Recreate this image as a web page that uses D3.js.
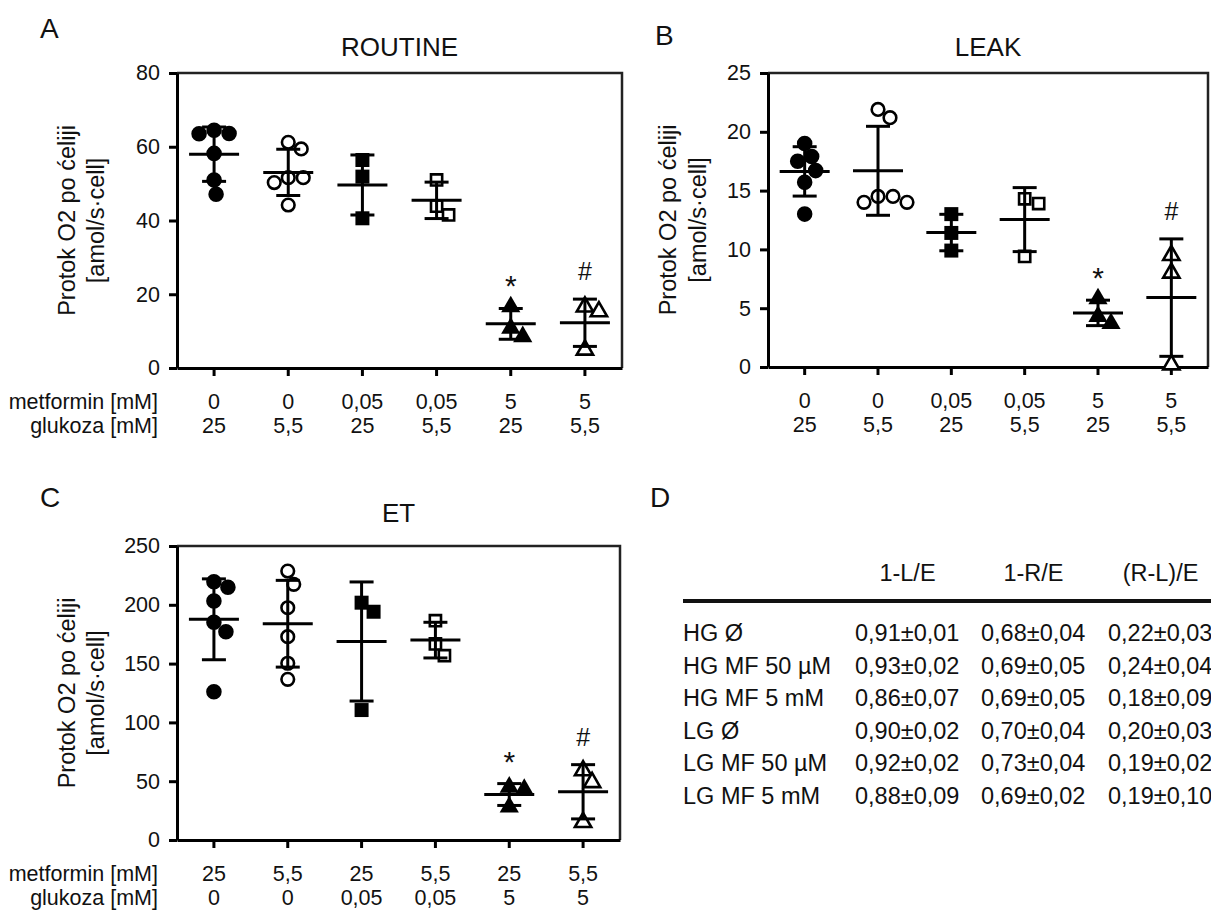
<!DOCTYPE html>
<html>
<head>
<meta charset="utf-8">
<script src="https://cdn.jsdelivr.net/npm/d3@7"></script>
<style>
  html, body { margin: 0; padding: 0; background: #fff; }
  svg { display: block; font-family: "Liberation Sans", Arial, sans-serif; }
  text { fill: #111; }
</style>
</head>
<body>
<svg id="fig" width="1211" height="916"></svg>
<script>
// ---- data -------------------------------------------------------------
// O2 flux per cell [amol/s·cell], one array per group (individual experiments)
const routine = [
  [64.5, 63.6, 63.5, 58.2, 51.0, 47.1],
  [61.2, 59.4, 51.6, 50.3, 51.6, 44.2],
  [56.4, 51.9, 40.6],
  [51.0, 43.9, 41.5],
  [16.6, 10.8, 8.5],
  [16.6, 15.3, 4.9]
];
const leak = [
  [19.0, 17.9, 17.5, 16.7, 15.7, 13.0],
  [21.9, 21.2, 14.5, 14.0, 14.0, 14.5],
  [13.0, 11.4, 9.9],
  [14.3, 13.9, 9.4],
  [5.8, 4.3, 3.7],
  [9.5, 8.0, 0.2]
];
const et = [
  [219.6, 214.9, 203.2, 185.1, 177.1, 126.1],
  [228.7, 217.4, 197.5, 172.9, 150.3, 136.6],
  [201.8, 194.1, 110.5],
  [186.5, 166.7, 156.7],
  [45, 43, 28],
  [59, 49, 15]
];

// category labels under the x axis
const metforminLabels = ["0", "0", "0,05", "0,05", "5", "5"];
const glukozaLabels = ["25", "5,5", "25", "5,5", "25", "5,5"];
const rowTitles = ["metformin [mM]", "glukoza [mM]"];

// y ticks per panel
const routineTicks = [0, 20, 40, 60, 80];
const leakTicks = [0, 5, 10, 15, 20, 25];
const etTicks = [0, 50, 100, 150, 200, 250];

// significance marks per group
const sigMarks = ["", "", "", "", "*", "#"];

// coupling control ratios (panel D)
const tableCols = ["1-L/E", "1-R/E", "(R-L)/E"];
const tableRows = ["HG Ø", "HG MF 50 µM", "HG MF 5 mM", "LG Ø", "LG MF 50 µM", "LG MF 5 mM"];
const tableLE = ["0,91±0,01", "0,93±0,02", "0,86±0,07", "0,90±0,02", "0,92±0,02", "0,88±0,09"];
const tableRE = ["0,68±0,04", "0,69±0,05", "0,69±0,05", "0,70±0,04", "0,73±0,04", "0,69±0,02"];
const tableRLE = ["0,22±0,03", "0,24±0,04", "0,18±0,09", "0,20±0,03", "0,19±0,02", "0,19±0,10"];

// ---- drawing ----------------------------------------------------------
const svg = d3.select("#fig");
const FONT = 21.5;
const yTitle = ["Protok O2 po ćeliji", "[amol/s·cell]"];

// marker style per group: shape + filled/open
const markerStyle = [
  { type: d3.symbolCircle, size: 190, fill: true },
  { type: d3.symbolCircle, size: 125, fill: false },
  { type: d3.symbolSquare, size: 196, fill: true },
  { type: d3.symbolSquare, size: 125, fill: false },
  { type: d3.symbolTriangle, size: 160, fill: true },
  { type: d3.symbolTriangle, size: 115, fill: false }
];

// simple non-overlapping horizontal spread of points inside a column
function spread(values, y, minDist) {
  const order = d3.range(values.length).sort((a, b) => values[b] - values[a]);
  const placed = [];
  const offs = new Array(values.length).fill(0);
  for (const i of order) {
    const py = y(values[i]);
    for (let k = 0; k < 80; k++) {
      const c = k === 0 ? 0 : (k % 2 ? Math.ceil(k / 2) : -Math.ceil(k / 2));
      if (placed.every(p => Math.hypot(p.x - c, p.y - py) >= minDist)) { offs[i] = c; placed.push({ x: c, y: py }); break; }
    }
  }
  return offs;
}

function panel(opt) {
  const { left, right, top, bottom, data, ticks, title, rows, showRowTitles, titleOff } = opt;
  const g = svg.append("g");
  const x = d3.scaleBand().domain(d3.range(data.length)).range([left, right]).padding(0);
  const y = d3.scaleLinear().domain([0, d3.max(ticks)]).range([bottom, top]);

  // frame: thinner top/right
  g.append("path")
    .attr("d", `M${left},${top}H${right}V${bottom}`)
    .attr("fill", "none").attr("stroke", "#222").attr("stroke-width", 2.5);

  // y axis
  const ya = g.append("g").attr("transform", `translate(${left},0)`)
    .call(d3.axisLeft(y).tickValues(ticks).tickSize(8).tickSizeOuter(0).tickPadding(9));
  ya.select(".domain").attr("stroke", "#000").attr("stroke-width", 3);
  ya.selectAll(".tick line").attr("stroke", "#000").attr("stroke-width", 3);
  ya.selectAll(".tick text").attr("font-size", FONT).attr("font-family", "Liberation Sans, Arial, sans-serif").attr("fill", "#111");

  // x axis
  const xa = g.append("g").attr("transform", `translate(0,${bottom})`)
    .call(d3.axisBottom(x).tickSize(8).tickSizeOuter(0).tickFormat(""));
  xa.select(".domain").attr("stroke", "#000").attr("stroke-width", 3);
  xa.selectAll(".tick line").attr("stroke", "#000").attr("stroke-width", 3);

  // category rows
  rows.forEach((labels, r) => {
    g.selectAll(null).data(labels).join("text")
      .attr("x", (d, i) => x(i) + x.bandwidth() / 2)
      .attr("y", bottom + 41 + r * 24)
      .attr("text-anchor", "middle")
      .attr("font-size", FONT)
      .text(d => d);
    if (showRowTitles) {
      g.append("text").attr("x", 158).attr("y", bottom + 41 + r * 24)
        .attr("text-anchor", "end").attr("font-size", FONT).text(rowTitles[r]);
    }
  });

  // title
  g.append("text").attr("x", (left + right) / 2).attr("y", top - titleOff)
    .attr("text-anchor", "middle").attr("font-size", 26).text(title);

  // y title (two lines)
  const yc = (top + bottom) / 2;
  yTitle.forEach((t, i) => {
    g.append("text")
      .attr("transform", `translate(${left + opt.yTitleX[i]},${yc}) rotate(-90)`)
      .attr("text-anchor", "middle").attr("font-size", 23.5).text(t);
  });

  // points, then mean ± SD bars on top
  data.forEach((vals, gi) => {
    const cx = x(gi) + x.bandwidth() / 2;
    const st = markerStyle[gi];
    const offs = spread(vals, y, 14.5);
    const sym = d3.symbol().type(st.type).size(st.size);
    g.selectAll(null).data(vals).join("path")
      .attr("d", sym)
      .attr("transform", (d, i) => `translate(${cx + offs[i]},${y(d)})`)
      .attr("fill", st.fill ? "#000" : "#fff")
      .attr("stroke", "#000")
      .attr("stroke-width", st.fill ? 0 : 2.6);

    const m = d3.mean(vals), sd = d3.deviation(vals);
    const bars = g.append("g").attr("stroke", "#000").attr("stroke-width", 3).attr("fill", "none");
    bars.append("line").attr("x1", cx).attr("x2", cx).attr("y1", y(m - sd)).attr("y2", y(m + sd));
    bars.append("line").attr("x1", cx - 12).attr("x2", cx + 12).attr("y1", y(m + sd)).attr("y2", y(m + sd));
    bars.append("line").attr("x1", cx - 12).attr("x2", cx + 12).attr("y1", y(m - sd)).attr("y2", y(m - sd));
    bars.append("line").attr("x1", cx - 25).attr("x2", cx + 25).attr("y1", y(m)).attr("y2", y(m));

    if (sigMarks[gi]) {
      const isStar = sigMarks[gi] === "*";
      g.append("text").attr("x", cx).attr("y", y(m + sd) - (isStar ? 12 : 19))
        .attr("text-anchor", "middle").attr("font-size", isStar ? 30 : 25).text(sigMarks[gi]);
    }
  });
}

panel({ left: 177, right: 622, top: 73, bottom: 368, data: routine, ticks: routineTicks,
  title: "ROUTINE", rows: [metforminLabels, glukozaLabels], showRowTitles: true,
  titleOff: 17, yTitleX: [-102, -73] });
panel({ left: 768, right: 1208, top: 73, bottom: 367, data: leak, ticks: leakTicks,
  title: "LEAK", rows: [metforminLabels, glukozaLabels], showRowTitles: false,
  titleOff: 17, yTitleX: [-92, -62] });
panel({ left: 177, right: 620, top: 546, bottom: 840, data: et, ticks: etTicks,
  title: "ET", rows: [glukozaLabels, metforminLabels], showRowTitles: true,
  titleOff: 24, yTitleX: [-102, -73] });

// panel letters
[["A", 40, 38], ["B", 655, 45], ["C", 40, 507], ["D", 650, 507]].forEach(([t, lx, ly]) => {
  svg.append("text").attr("x", lx).attr("y", ly).attr("font-size", 28).text(t);
});

// panel D table
const tg = svg.append("g").attr("font-size", 23.5);
const colX = [855, 981, 1108];
const colW = 105;
tableCols.forEach((c, i) => tg.append("text").attr("x", colX[i] + colW / 2).attr("y", 581).attr("text-anchor", "middle").text(c));
tg.append("line").attr("x1", 683).attr("x2", 1211).attr("y1", 601).attr("y2", 601).attr("stroke", "#111").attr("stroke-width", 4);
const cols = [tableLE, tableRE, tableRLE];
tableRows.forEach((r, i) => {
  const yy = 641 + i * 32.5;
  tg.append("text").attr("x", 683).attr("y", yy).text(r);
  cols.forEach((col, j) => tg.append("text").attr("x", colX[j]).attr("y", yy).text(col[i]));
});
</script>
</body>
</html>
